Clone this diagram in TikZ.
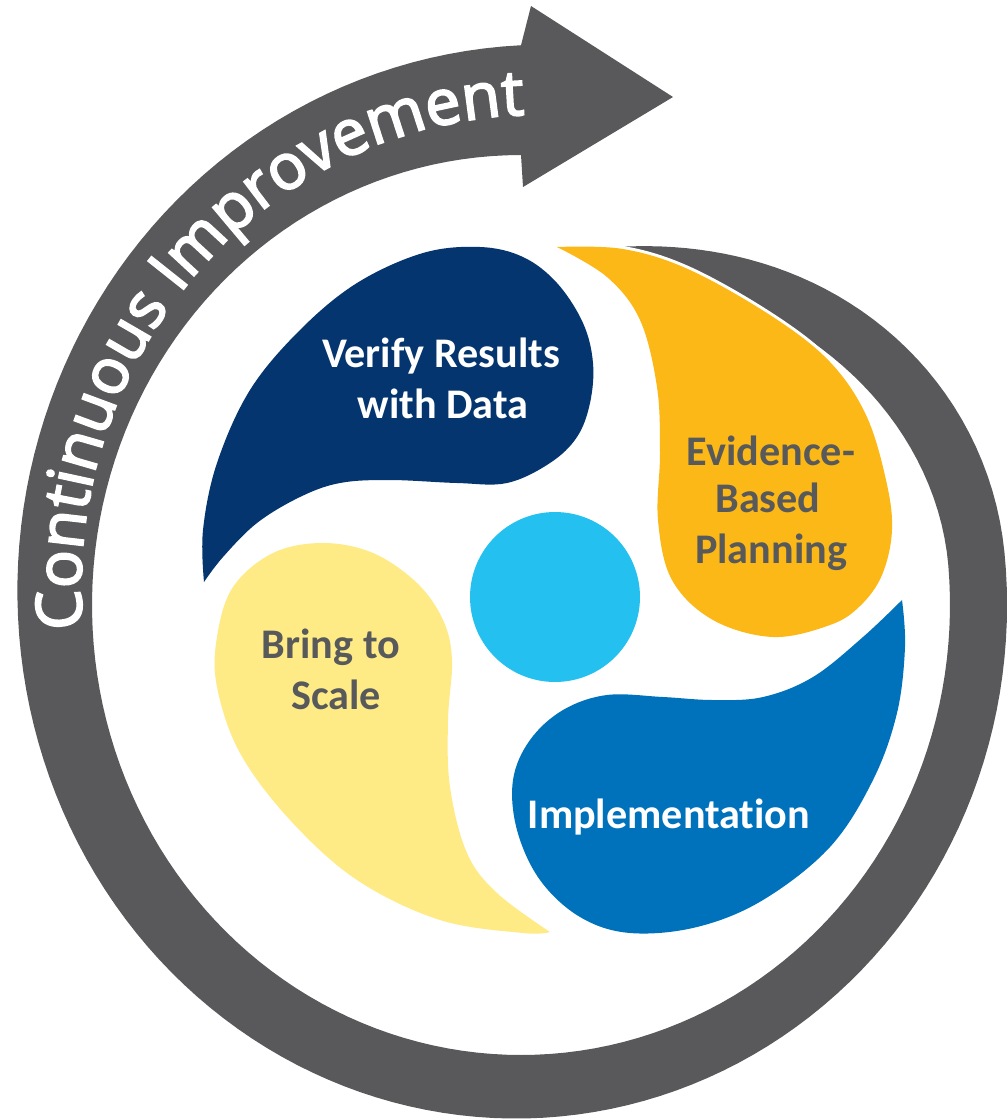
\documentclass[tikz,border=0pt]{standalone}
\usepackage{fontspec}
\setmainfont{Carlito}
\newfontfamily\cifamily[FakeBold=3]{Open Sans}
\newfontfamily\lblfamily[Ligatures=NoCommon]{Carlito}
\usetikzlibrary{decorations.text}
\definecolor{cigray}{HTML}{59595B}
\definecolor{navy}{HTML}{04356F}
\definecolor{gold}{HTML}{FBB817}
\definecolor{midblue}{HTML}{0072BC}
\definecolor{paleyellow}{HTML}{FFEB86}
\definecolor{skyblue}{HTML}{24C1F0}
\definecolor{labelgray}{HTML}{58595B}
\newcommand\cifont{\cifamily\fontsize{36pt}{40pt}\selectfont\color{white}}
\begin{document}
\begin{tikzpicture}[x=0.02cm, y=-0.02cm,
  petal/.style={preaction={draw=white, line width=0.12cm, line join=round}},
  lbl/.style={font=\lblfamily\bfseries\fontsize{24pt}{28pt}\selectfont, anchor=base, inner sep=0pt},
]
\fill[white] (0,0) rectangle (1007,1120);
\useasboundingbox (0,0) rectangle (1007,1120);

% spiral band with arrow
\fill[cigray]
 plot[variable=\t, domain=285.4:354, samples=40]
   ({521+429*(0.825+0.308*sin(90*(\t-285.4)/68.6)*(0.7+0.3*sin(90*(\t-285.4)/68.6)))*cos(\t)},
    {605+450*(0.825+0.308*sin(90*(\t-285.4)/68.6)*(0.7+0.3*sin(90*(\t-285.4)/68.6)))*sin(\t)})
 -- plot[variable=\t, domain=354:630, samples=140]
   ({521+429*(1.133+0.111*((\t-354)/276)*((\t-354)/276)*(0.4+0.6*(\t-354)/276))*cos(\t)},
    {605+450*(1.133+0.111*((\t-354)/276)*((\t-354)/276)*(0.4+0.6*(\t-354)/276))*sin(\t)})
 -- (531,6) -- (673,97) -- (523,187)
 -- plot[variable=\t, domain=630:355, samples=140] ({521+429*cos(\t)}, {605+450*sin(\t)})
 -- plot[variable=\t, domain=355:285.4, samples=40]
   ({521+429*(0.80+0.2*(3*((\t-285.4)/69.6)*((\t-285.4)/69.6)-2*((\t-285.4)/69.6)*((\t-285.4)/69.6)*((\t-285.4)/69.6)))*cos(\t)},
    {605+450*(0.80+0.2*(3*((\t-285.4)/69.6)*((\t-285.4)/69.6)-2*((\t-285.4)/69.6)*((\t-285.4)/69.6)*((\t-285.4)/69.6)))*sin(\t)})
 -- cycle;

% text along the band
\path[decorate, decoration={text along path, text={|\cifont|Continuous Improvement}, text align=center}]
 plot[variable=\t, domain=520:647, samples=90]
   ({521+429*(1.023+0.000717*(\t-538))*cos(\t)}, {605+450*(1.023+0.000717*(\t-538))*sin(\t)});

% navy petal
\fill[navy, petal] plot[smooth, tension=0.6] coordinates {
 (204,582) (203,530) (217,463) (250,390) (300,330) (357,283) (423,253) (480,247)
 (523,257) (557,283) (583,323) (593,363) (590,403) (577,437) (550,463) (507,483)
 (457,483) (390,480) (340,483) (300,497) (257,523) (223,557) (204,582)} -- cycle;

% orange petal
\fill[gold, petal] plot[smooth, tension=0.6] coordinates {
 (557,247) (623,249) (690,270) (773,317) (830,362) (866,415) (886,480) (892,530)
 (882,575) (860,606) (830,625) (773,637) (713,620) (672,580) (658,520) (660,453)
 (657,387) (640,320) (607,277) (557,247)} -- cycle;

% blue petal
\fill[midblue, petal] plot[smooth, tension=0.6] coordinates {
 (902,600) (905,647) (897,713) (873,780) (830,847) (763,900) (697,927) (630,933)
 (580,917) (540,880) (517,830) (513,780) (530,740) (563,710) (607,695) (663,697)
 (713,700) (763,697) (813,677) (863,637) (902,600)} -- cycle;

% yellow petal
\fill[paleyellow, petal] plot[smooth, tension=0.6] coordinates {
 (550,932) (523,933) (440,920) (357,880) (290,820) (240,753) (217,687) (217,637)
 (233,587) (273,553) (323,543) (373,553) (417,583) (443,620) (452,660) (448,720)
 (450,787) (467,853) (497,893) (550,932)} -- cycle;

% hub
\node[circle, fill=skyblue, minimum size=3.4cm, inner sep=0pt] (hub) at (555,597) {};

% labels
\node[lbl, text=white] (verify1) at (441,367) {Verify Results};
\node[lbl, text=white] (verify2) at (443,418) {with Data};
\node[lbl, text=labelgray] (evid1) at (771,465) {Evidence-};
\node[lbl, text=labelgray] (evid2) at (768,512) {Based};
\node[lbl, text=labelgray] (evid3) at (771,563) {Planning};
\node[lbl, text=labelgray] (bring1) at (331,658) {Bring to};
\node[lbl, text=labelgray] (bring2) at (336,709) {Scale};
\node[lbl, text=white] (impl) at (669,828) {Implementation};
\end{tikzpicture}
\end{document}
